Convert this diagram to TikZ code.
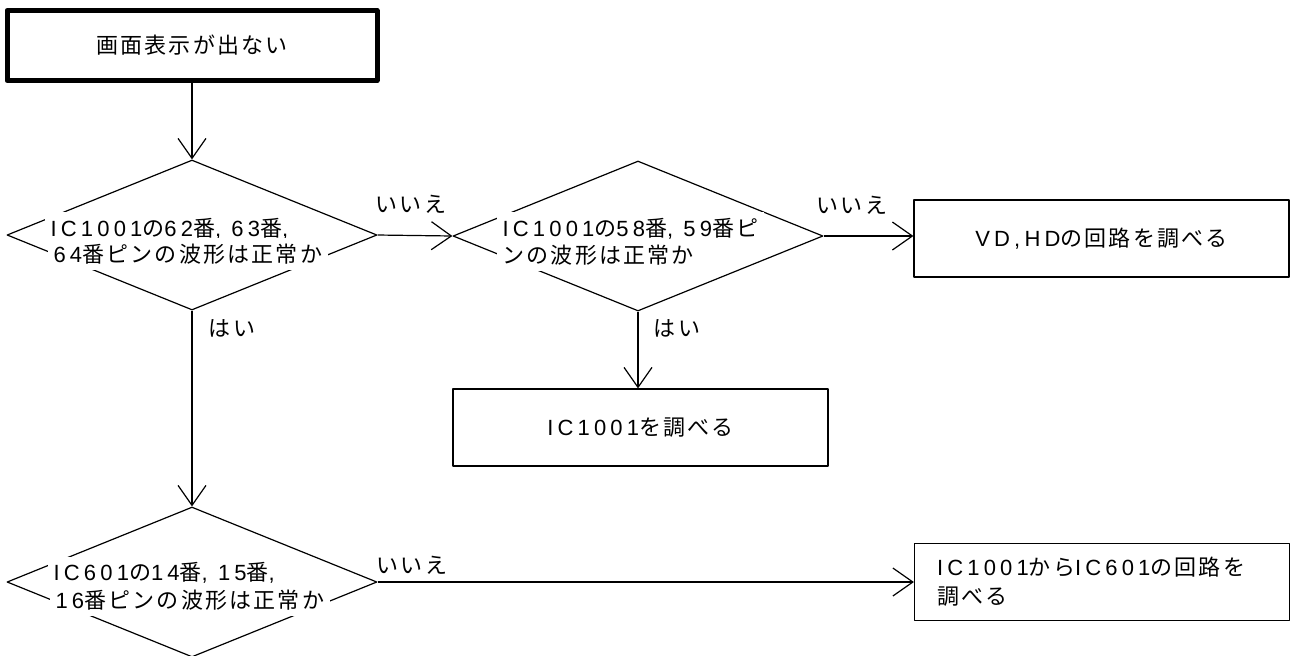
\documentclass[tikz,border=0pt]{standalone}
\usepackage{fontspec}
\setmainfont[LetterSpace=10]{Noto Sans CJK JP}
\newfontfamily\latn[LetterSpace=19]{Liberation Sans}
\usetikzlibrary{shapes.geometric,arrows.meta}

\begin{document}
\begin{tikzpicture}[x=0.5pt, y=-0.5pt, line width=0.6pt, line join=round,
    >={Straight Barb[length=10pt,width=14pt]},
    font=\fontsize{11}{13}\selectfont,
    startbox/.style={draw, line width=2.5pt, minimum width=185pt, minimum height=35pt, inner sep=0pt},
    actbox/.style={draw, minimum width=187.5pt, minimum height=38.5pt, inner sep=0pt},
    decision/.style={draw, diamond, minimum width=185pt, minimum height=75pt, inner sep=0pt},
    qline/.style={fill=white, anchor=west, inner xsep=3pt, inner ysep=3pt},
    lbl/.style={inner sep=0pt}]
    \useasboundingbox (0,0) rectangle (1295,655);

    % 流程框
    \node[startbox] (start) at (192,45.5) {画面表示が出ない};
    \node[decision] (d1) at (192,235) {};
    \node[decision] (d2) at (638,236) {};
    \node[decision] (d3) at (192,582) {};
    \node[actbox] (vd) at (1101.5,238.5) {{\latn VD,HD}の回路を調べる};
    \node[actbox] (ic) at (640.5,427.5) {{\latn IC1001}を調べる};
    \node[actbox, align=left, text width=165pt, font=\fontsize{11}{14.5}\selectfont] (circ) at (1102,582)
        {{\latn IC1001}から{\latn IC601}の回路を\\調べる};

    % 判断框文字
    \node[qline] (q1a) at (44,229) {{\latn IC1001}の{\latn 62}番{\latn , 63}番{\latn ,}};
    \node[qline] (q1b) at (47,254) {{\latn 64}番ピンの波形は正常か};
    \node[qline] (q2a) at (496,229) {{\latn IC1001}の{\latn 58}番{\latn , 59}番ピ};
    \node[qline] (q2b) at (496,255) {ンの波形は正常か};
    \node[qline] (q3a) at (47,573) {{\latn IC601}の{\latn 14}番{\latn , 15}番{\latn ,}};
    \node[qline] (q3b) at (49,600) {{\latn 16}番ピンの波形は正常か};

    % 连线
    \draw[->] (start.south) -- (d1.north);
    \draw[->] (d1.east) -- (d2.west);
    \draw[->] (d2.east) -- (d2.east -| vd.west);
    \draw[->] (d2.south) -- (d2.south |- ic.north);
    \draw[->] (d1.south) -- (d3.north);
    \draw[->] (d3.east) -- (d3.east -| circ.west);

    % 分支标注
    \node[lbl] (no1) at (411,204) {いいえ};
    \node[lbl] (no2) at (852,205) {いいえ};
    \node[lbl] (no3) at (412,565) {いいえ};
    \node[lbl] (yes1) at (232,328) {はい};
    \node[lbl] (yes2) at (677,328) {はい};
\end{tikzpicture}
\end{document}
